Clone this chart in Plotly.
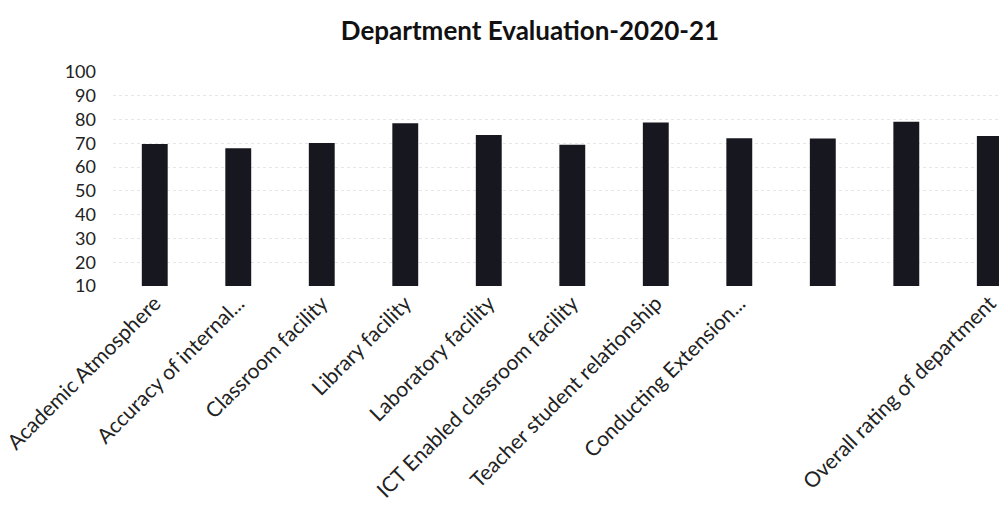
import plotly.graph_objects as go

categories = [
    "Academic Atmosphere",
    "Accuracy of internal...",
    "Classroom facility",
    "Library facility",
    "Laboratory facility",
    "ICT Enabled classroom facility",
    "Teacher student relationship",
    "Conducting Extension...",
    "",
    "",
    "Overall rating of department",
]
values = [69.7, 67.9, 70.1, 78.4, 73.5, 69.4, 78.8, 72.1, 72.0, 79.1, 73.1]
y_ticks = [10, 20, 30, 40, 50, 60, 70, 80, 90, 100]
title_text = "Department Evaluation-2020-21"

positions = list(range(len(values)))

fig = go.Figure(
    go.Bar(
        x=positions,
        y=values,
        marker=dict(color="#17171f", line=dict(width=0)),
        width=0.31,
        hoverinfo="skip",
    )
)

fig.update_layout(
    width=999,
    height=509,
    paper_bgcolor="white",
    plot_bgcolor="white",
    margin=dict(l=113, r=0, t=72, b=223, autoexpand=False),
    showlegend=False,
    title=dict(
        text="<b>" + title_text + "</b>",
        x=530 / 999,
        xanchor="center",
        xref="container",
        y=1 - 31 / 509,
        yanchor="middle",
        yref="container",
        font=dict(family="Lato, Open Sans, sans-serif", size=26, color="#111111"),
    ),
    font=dict(family="Lato, Open Sans, sans-serif", color="#222222"),
)

fig.update_xaxes(
    tickvals=positions,
    ticktext=categories,
    tickangle=-45,
    range=[-0.5, 10.11],
    tickfont=dict(size=21, color="#222222"),
    showgrid=False,
    showline=False,
    ticks="",
    zeroline=False,
    automargin=False,
    ticklabeloverflow="allow",
)

fig.update_yaxes(
    range=[10, 100],
    tickvals=y_ticks,
    tickfont=dict(size=18, color="#222222"),
    showgrid=True,
    gridcolor="#e6e6e6",
    griddash="dot",
    gridwidth=1,
    zeroline=False,
    showline=False,
    ticks="",
    ticklabelstandoff=16,
    automargin=False,
)

fig.write_html(
    "out.html",
    config={"displayModeBar": False},
    post_script="document.body.style.margin='0';document.body.style.overflow='hidden';",
)
